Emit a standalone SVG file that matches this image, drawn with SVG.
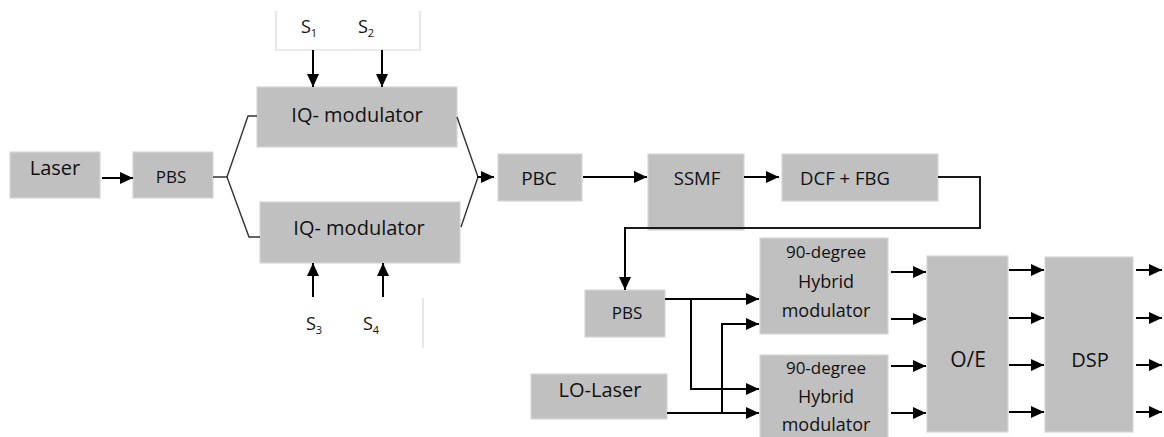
<svg xmlns="http://www.w3.org/2000/svg" width="1164" height="437" viewBox="0 0 1164 437">
<style>
.box{fill:#c0c0c0;stroke:#d6d6d6;stroke-width:1.2}
.t{font-family:"Open Sans","Liberation Sans",sans-serif;fill:#111;text-anchor:middle}
.a{stroke:#000;stroke-width:2;fill:none;marker-end:url(#ah)}
.c{stroke:#1a1a1a;stroke-width:2;fill:none}
.thin{stroke:#333;stroke-width:1.4;fill:none}
.lt{stroke:#d8d8d8;stroke-width:1.2;fill:none}
</style>
<defs>
<marker id="ah" markerUnits="userSpaceOnUse" markerWidth="13" markerHeight="12" refX="13" refY="6" orient="auto">
<path d="M0,0 L13,6 L0,12 z" fill="#000"/>
</marker>
</defs>
<rect width="1164" height="437" fill="#fff"/>
<g id="signals">
<polyline class="lt" points="276,11 276,50 420,50 420,11"/>
<line class="lt" x1="423" y1="298" x2="423" y2="348"/>
<text class="t" x="309" y="33" font-size="18">S<tspan font-size="11" dy="4">1</tspan></text>
<text class="t" x="366" y="33" font-size="18">S<tspan font-size="11" dy="4">2</tspan></text>
<text class="t" x="314" y="330" font-size="18">S<tspan font-size="11" dy="4">3</tspan></text>
<text class="t" x="371" y="330" font-size="18">S<tspan font-size="11" dy="4">4</tspan></text>
</g>
<g id="laser"><rect class="box" x="10" y="152" width="90" height="46"/><text class="t" x="55" y="175" font-size="20">Laser</text></g>
<g id="pbs1"><rect class="box" x="133" y="152" width="80" height="46"/><text class="t" x="171" y="183" font-size="17">PBS</text></g>
<g id="iq1"><rect class="box" x="257" y="87" width="200" height="60"/><text class="t" x="357" y="122" font-size="20">IQ- modulator</text></g>
<g id="iq2"><rect class="box" x="260" y="202" width="200" height="61"/><text class="t" x="359" y="235" font-size="20">IQ- modulator</text></g>
<g id="pbc"><rect class="box" x="498" y="154" width="84" height="47"/><text class="t" x="539" y="185" font-size="19">PBC</text></g>
<g id="ssmf"><rect class="box" x="648" y="154" width="96" height="76"/><text class="t" x="697" y="185" font-size="18.5">SSMF</text></g>
<g id="dcf"><rect class="box" x="782" y="154" width="156" height="47"/><text class="t" x="845" y="185" font-size="18.5">DCF + FBG</text></g>
<g id="pbs2"><rect class="box" x="585" y="290" width="80" height="47"/><text class="t" x="627" y="319" font-size="17">PBS</text></g>
<g id="lolaser"><rect class="box" x="531" y="374" width="136" height="45"/><text class="t" x="600" y="397" font-size="20">LO-Laser</text></g>
<g id="hybrid1"><rect class="box" x="760" y="238" width="128" height="96"/>
<text class="t" x="826" y="258" font-size="17">90-degree</text>
<text class="t" x="826" y="288" font-size="18">Hybrid</text>
<text class="t" x="826" y="317" font-size="18">modulator</text></g>
<g id="hybrid2"><rect class="box" x="760" y="355" width="128" height="90"/>
<text class="t" x="826" y="374" font-size="17">90-degree</text>
<text class="t" x="826" y="403" font-size="18">Hybrid</text>
<text class="t" x="826" y="431" font-size="18">modulator</text></g>
<g id="oe"><rect class="box" x="927" y="256" width="81" height="176"/><text class="t" x="968" y="367" font-size="21">O/E</text></g>
<g id="dsp"><rect class="box" x="1045" y="257" width="88" height="175"/><text class="t" x="1090" y="367" font-size="20">DSP</text></g>
<g id="connectors">
<line class="a" x1="313" y1="50" x2="313" y2="87"/>
<line class="a" x1="382" y1="50" x2="382" y2="87"/>
<line class="a" x1="313" y1="297" x2="313" y2="263"/>
<line class="a" x1="383" y1="297" x2="383" y2="263"/>
<line class="a" x1="102" y1="178" x2="133" y2="178"/>
<polyline class="thin" points="213,177 227,177 248,116 257,116"/>
<polyline class="thin" points="227,177 249,237 260,237"/>
<polyline class="thin" points="457,117 478,177 461,227"/>
<line class="a" x1="477" y1="177" x2="494" y2="177"/>
<line class="a" x1="583" y1="177" x2="647" y2="177"/>
<line class="a" x1="744" y1="177" x2="779" y2="177"/>
<polyline class="c" points="938,177 980,177 980,228 625,228"/>
<line class="a" x1="625" y1="227" x2="625" y2="290"/>
<line class="a" x1="665" y1="299" x2="759" y2="299"/>
<polyline class="a" points="691,299 691,389 759,389"/>
<line class="a" x1="667" y1="413" x2="759" y2="413"/>
<polyline class="a" points="722,413 722,324 759,324"/>
<line class="a" x1="891" y1="272" x2="926" y2="272"/>
<line class="a" x1="891" y1="319" x2="926" y2="319"/>
<line class="a" x1="891" y1="366" x2="926" y2="366"/>
<line class="a" x1="891" y1="413" x2="926" y2="413"/>
<line class="a" x1="1009" y1="270" x2="1044" y2="270"/>
<line class="a" x1="1009" y1="318" x2="1044" y2="318"/>
<line class="a" x1="1009" y1="365" x2="1044" y2="365"/>
<line class="a" x1="1009" y1="412" x2="1044" y2="412"/>
<line class="a" x1="1136" y1="270" x2="1162" y2="270"/>
<line class="a" x1="1136" y1="318" x2="1162" y2="318"/>
<line class="a" x1="1136" y1="365" x2="1162" y2="365"/>
<line class="a" x1="1136" y1="412" x2="1162" y2="412"/>
</g>
</svg>
